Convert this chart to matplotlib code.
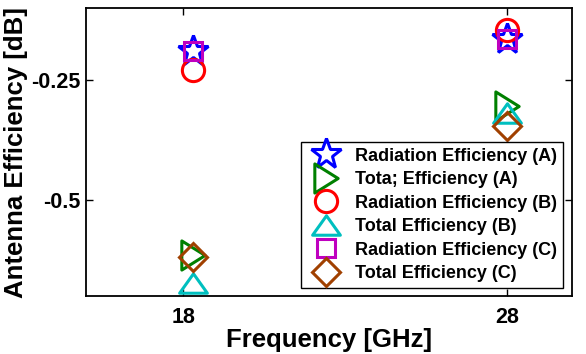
import matplotlib
matplotlib.use("Agg")
import matplotlib.pyplot as plt
from matplotlib.path import Path

freqs = [18.3, 28.0]
rad_a = [-0.190, -0.165]
tot_a = [-0.614, -0.305]
rad_b = [-0.228, -0.145]
tot_b = [-0.672, -0.318]
rad_c = [-0.189, -0.164]
tot_c = [-0.618, -0.345]

labels = ["Radiation Efficiency (A)", "Tota; Efficiency (A)",
          "Radiation Efficiency (B)", "Total Efficiency (B)",
          "Radiation Efficiency (C)", "Total Efficiency (C)"]
xticks = [18, 28]
xtick_labels = ["18", "28"]
yticks = [-0.5, -0.25]
ytick_labels = ["-0.5", "-0.25"]

plt.rcParams['font.family'] = ['Liberation Sans', 'DejaVu Sans']
plt.rcParams['font.weight'] = 'bold'

# flatter MATLAB-like triangles
tri_up = Path([(0, 0.7), (-1, -0.7), (1, -0.7), (0, 0.7)], closed=True)
tri_right = Path([(0.8, 0), (-0.8, 1), (-0.8, -1), (0.8, 0)], closed=True)

fig = plt.figure(figsize=(5.86, 3.54), dpi=100)
ax = fig.add_axes([0.1468, 0.1638, 0.8292, 0.8132])

series = [
    (rad_a, '*', 'blue', 23),
    (tot_a, tri_right, 'green', 21),
    (rad_b, 'o', 'red', 16),
    (tot_b, tri_up, '#00BFBF', 20),
    (rad_c, 's', '#BF00BF', 12.5),
    (tot_c, 'D', '#A04000', 14),
]
for (vals, m, c, ms), lab in zip(series, labels):
    ax.plot(freqs, vals, linestyle='none', marker=m, markersize=ms,
            markerfacecolor='none', markeredgecolor=c, markeredgewidth=2.2,
            label=lab, clip_on=False)

ax.set_xlim(15, 30)
ax.set_ylim(-0.7, -0.1)
ax.set_xticks(xticks)
ax.set_xticklabels(xtick_labels)
ax.set_yticks(yticks)
ax.set_yticklabels(ytick_labels)
ax.tick_params(direction='in', length=5, width=1, top=True, right=True,
               labelsize=15.5)
ax.tick_params(axis='y', pad=4)
ax.tick_params(axis='x', pad=8)
for lbl in ax.get_xticklabels() + ax.get_yticklabels():
    lbl.set_fontweight('bold')
for s in ax.spines.values():
    s.set_linewidth(1.3)

ax.set_xlabel("Frequency [GHz]", fontsize=18.5, fontweight='bold', labelpad=0)
ax.set_ylabel("Antenna Efficiency [dB]", fontsize=18.5, fontweight='bold', labelpad=2)

leg = ax.legend(loc='lower right', bbox_to_anchor=(0.981, 0.029),
                borderaxespad=0, fancybox=False, framealpha=1,
                edgecolor='black', prop={'size': 13, 'weight': 'bold'},
                labelspacing=0.36, handletextpad=0.5, borderpad=0.3,
                handlelength=2.2, markerscale=1.0)
leg.get_frame().set_linewidth(1.0)
leg.set_zorder(5)

fig.savefig("out.png", dpi=100)
